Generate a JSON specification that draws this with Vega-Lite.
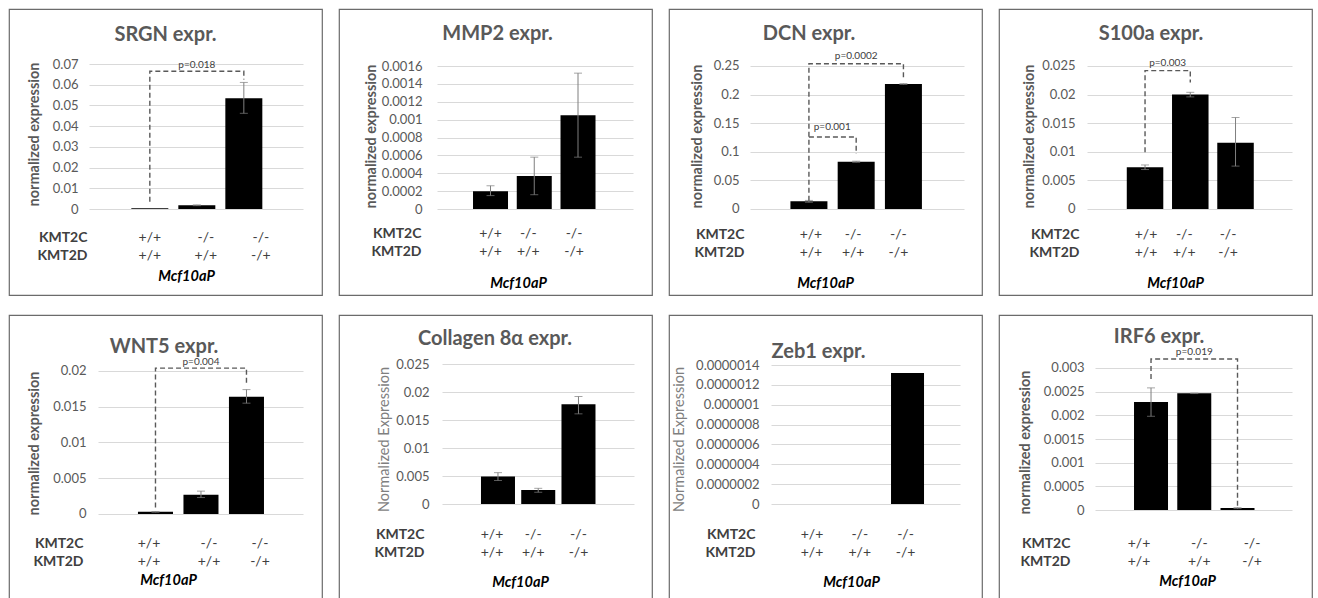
{
"$schema": "https://vega.github.io/schema/vega-lite/v6.json",
"background": "white",
"padding": {"left": 8, "top": 8, "right": 4, "bottom": 4},
"columns": 4,
"spacing": {"row": 18, "column": 15},
"datasets": {
"bars": [
{"p":"SRGN","g":"+/+|+/+","v":0.0004},
{"p":"SRGN","g":"-/-|+/+","v":0.0018,"lo":0.0016,"hi":0.002},
{"p":"SRGN","g":"-/-|-/+","v":0.0535,"lo":0.0462,"hi":0.0611},
{"p":"MMP2","g":"+/+|+/+","v":0.0002,"lo":0.00015,"hi":0.00026},
{"p":"MMP2","g":"-/-|+/+","v":0.00037,"lo":0.00016,"hi":0.00058},
{"p":"MMP2","g":"-/-|-/+","v":0.00105,"lo":0.00058,"hi":0.00152},
{"p":"DCN","g":"+/+|+/+","v":0.0134,"lo":0.0118,"hi":0.015},
{"p":"DCN","g":"-/-|+/+","v":0.0826,"lo":0.0816,"hi":0.0836},
{"p":"DCN","g":"-/-|-/+","v":0.2185,"lo":0.2178,"hi":0.2192},
{"p":"S100a","g":"+/+|+/+","v":0.0073,"lo":0.0069,"hi":0.0077},
{"p":"S100a","g":"-/-|+/+","v":0.02,"lo":0.0196,"hi":0.0204},
{"p":"S100a","g":"-/-|-/+","v":0.0116,"lo":0.0075,"hi":0.016},
{"p":"WNT5","g":"+/+|+/+","v":0.0003,"lo":0.00025,"hi":0.00035},
{"p":"WNT5","g":"-/-|+/+","v":0.0027,"lo":0.0023,"hi":0.0032},
{"p":"WNT5","g":"-/-|-/+","v":0.0164,"lo":0.0155,"hi":0.0174},
{"p":"COL8","g":"+/+|+/+","v":0.0049,"lo":0.0042,"hi":0.0056},
{"p":"COL8","g":"-/-|+/+","v":0.0025,"lo":0.0021,"hi":0.0028},
{"p":"COL8","g":"-/-|-/+","v":0.0178,"lo":0.0161,"hi":0.0192},
{"p":"ZEB1","g":"+/+|+/+","v":0},
{"p":"ZEB1","g":"-/-|+/+","v":0},
{"p":"ZEB1","g":"-/-|-/+","v":0.00000132},
{"p":"IRF6","g":"+/+|+/+","v":0.00228,"lo":0.00198,"hi":0.00258},
{"p":"IRF6","g":"-/-|+/+","v":0.002465,"lo":0.00246,"hi":0.00247},
{"p":"IRF6","g":"-/-|-/+","v":0.00004,"lo":0.00003,"hi":0.00005}
],
"brk": [
{"p":"SRGN","b":1,"o":1,"g":"+/+|+/+","y":0.0035},
{"p":"SRGN","b":1,"o":2,"g":"+/+|+/+","y":0.0665},
{"p":"SRGN","b":1,"o":3,"g":"-/-|-/+","y":0.0665},
{"p":"SRGN","b":1,"o":4,"g":"-/-|-/+","y":0.0625},
{"p":"DCN","b":1,"o":1,"g":"+/+|+/+","y":0.0145},
{"p":"DCN","b":1,"o":2,"g":"+/+|+/+","y":0.254},
{"p":"DCN","b":1,"o":3,"g":"-/-|-/+","y":0.254},
{"p":"DCN","b":1,"o":4,"g":"-/-|-/+","y":0.227},
{"p":"DCN","b":2,"o":1,"g":"+/+|+/+","y":0.126},
{"p":"DCN","b":2,"o":2,"g":"-/-|+/+","y":0.126},
{"p":"DCN","b":2,"o":3,"g":"-/-|+/+","y":0.096},
{"p":"S100a","b":1,"o":1,"g":"+/+|+/+","y":0.0099},
{"p":"S100a","b":1,"o":2,"g":"+/+|+/+","y":0.0242},
{"p":"S100a","b":1,"o":3,"g":"-/-|+/+","y":0.0242},
{"p":"S100a","b":1,"o":4,"g":"-/-|+/+","y":0.0221},
{"p":"WNT5","b":1,"o":1,"g":"+/+|+/+","y":0.0009},
{"p":"WNT5","b":1,"o":2,"g":"+/+|+/+","y":0.0204},
{"p":"WNT5","b":1,"o":3,"g":"-/-|-/+","y":0.0204},
{"p":"WNT5","b":1,"o":4,"g":"-/-|-/+","y":0.0182},
{"p":"IRF6","b":1,"o":1,"g":"+/+|+/+","y":0.00277},
{"p":"IRF6","b":1,"o":2,"g":"+/+|+/+","y":0.00319},
{"p":"IRF6","b":1,"o":3,"g":"-/-|-/+","y":0.00319},
{"p":"IRF6","b":1,"o":4,"g":"-/-|-/+","y":0.00009}
],
"pv": [
{"p":"SRGN","g":"-/-|+/+","y":0.0695,"t":"p=0.018","m":0},
{"p":"DCN","g":"-/-|+/+","y":0.2674,"t":"p=0.0002","m":0},
{"p":"DCN","g":"+/+|+/+","y":0.1436,"t":"p=0.001","m":1},
{"p":"S100a","g":"+/+|+/+","y":0.0256,"t":"p=0.003","m":1},
{"p":"WNT5","g":"-/-|+/+","y":0.0213,"t":"p=0.004","m":0},
{"p":"IRF6","g":"-/-|+/+","y":0.00333,"t":"p=0.019","m":0}
]
},
"concat": [
{
"width": 313, "height": 286,
"title": {"text": "SRGN expr.", "offset": -36, "dx": 0},
"layer": [
{"data": {"name": "bars"}, "transform": [{"filter": "datum.p === 'SRGN'"}],
 "mark": {"type": "bar", "color": "#000000"},
 "encoding": {
  "x": {"field": "g", "type": "nominal", "scale": {"domain": ["+/+|+/+", "-/-|+/+", "-/-|-/+"], "range": [80, 294], "paddingInner": 0.213, "paddingOuter": 0.883, "align": 0.51},
   "axis": {"title": "Mcf10aP", "labelExpr": "split(datum.label, '|')", "offset": -58, "titleX": 177, "titleY": 39,
    "labelOffset": {"condition": [{"test": "datum.value === '+/+|+/+'", "value": 0}, {"test": "datum.value === '-/-|+/+'", "value": 9}], "value": 17}}},
  "y": {"field": "v", "type": "quantitative", "scale": {"domain": [-0.041517, 0.096552], "nice": false, "zero": false},
   "axis": {"title": "normalized expression", "tickCount": 30, "labelOverlap": false, "values": [-0.013517, 0, 0.01, 0.02, 0.03, 0.04, 0.05, 0.06, 0.07],
    "labelExpr": "datum.value < 0 ? ['KMT2C', 'KMT2D'] : format(datum.value, '.2~f')",
    "offset": -72, "titleX": -47, "titleY": 125,
    "labelPadding": {"condition": {"test": "datum.value < 0", "value": -6}, "value": 3},
    "labelFontWeight": {"condition": {"test": "datum.value < 0", "value": "bold"}, "value": "normal"},
    "labelColor": {"condition": {"test": "datum.value < 0", "value": "#404040"}, "value": "#595959"},
    "labelFontSize": {"condition": {"test": "datum.value < 0", "value": 14}, "value": 13},
    "gridOpacity": {"condition": {"test": "datum.value < 0", "value": 0}, "value": 1}}}
 }},
{"data": {"name": "bars"}, "transform": [{"filter": "datum.p === 'SRGN' && datum.lo != null"}],
 "mark": {"type": "errorbar", "ticks": {"size": 8}, "color": "#7f7f7f"},
 "encoding": {"x": {"field": "g", "type": "nominal"}, "y": {"field": "lo", "type": "quantitative", "title": "normalized expression"}, "y2": {"field": "hi"}}},
{"data": {"name": "brk"}, "transform": [{"filter": "datum.p === 'SRGN'"}],
 "mark": {"type": "line", "color": "#595959", "strokeDash": [5, 3], "strokeWidth": 1.4},
 "encoding": {"x": {"field": "g", "type": "nominal"}, "y": {"field": "y", "type": "quantitative", "title": "normalized expression"}, "order": {"field": "o"}, "detail": {"field": "b"}}},
{"data": {"name": "pv"}, "transform": [{"filter": "datum.p === 'SRGN'"}],
 "mark": {"type": "text", "fontSize": 10, "color": "#404040"},
 "encoding": {"x": {"field": "g", "type": "nominal"}, "y": {"field": "y", "type": "quantitative", "title": "normalized expression"}, "text": {"field": "t"}}}
]
},
{
"width": 313, "height": 286,
"title": {"text": "MMP2 expr.", "offset": -35, "dx": 2},
"layer": [
{"data": {"name": "bars"}, "transform": [{"filter": "datum.p === 'MMP2'"}],
 "mark": {"type": "bar", "color": "#000000"},
 "encoding": {
  "x": {"field": "g", "type": "nominal", "scale": {"domain": ["+/+|+/+", "-/-|+/+", "-/-|-/+"], "range": [98, 294], "paddingInner": 0.2, "paddingOuter": 0.84, "align": 0.49},
   "axis": {"title": "Mcf10aP", "labelExpr": "split(datum.label, '|')", "offset": -62, "titleX": 179, "titleY": 50,
    "labelOffset": {"condition": [{"test": "datum.value === '+/+|+/+'", "value": 0}, {"test": "datum.value === '-/-|+/+'", "value": -6}], "value": -4}}},
  "y": {"field": "v", "type": "quantitative", "scale": {"domain": [-0.00096224, 0.0022378], "nice": false, "zero": false},
   "axis": {"title": "normalized expression", "tickCount": 30, "labelOverlap": false, "values": [-0.00026853, 0, 0.0002, 0.0004, 0.0006, 0.0008, 0.001, 0.0012, 0.0014, 0.0016],
    "labelExpr": "datum.value < 0 ? ['KMT2C', 'KMT2D'] : format(datum.value, '.4~f')",
    "offset": -86, "titleX": -54, "titleY": 127,
    "labelPadding": {"condition": {"test": "datum.value < 0", "value": 4}, "value": 3},
    "labelFontWeight": {"condition": {"test": "datum.value < 0", "value": "bold"}, "value": "normal"},
    "labelColor": {"condition": {"test": "datum.value < 0", "value": "#404040"}, "value": "#595959"},
    "labelFontSize": {"condition": {"test": "datum.value < 0", "value": 14}, "value": 13},
    "gridOpacity": {"condition": {"test": "datum.value < 0", "value": 0}, "value": 1}}}
 }},
{"data": {"name": "bars"}, "transform": [{"filter": "datum.p === 'MMP2' && datum.lo != null"}],
 "mark": {"type": "errorbar", "ticks": {"size": 8}, "color": "#7f7f7f"},
 "encoding": {"x": {"field": "g", "type": "nominal"}, "y": {"field": "lo", "type": "quantitative", "title": "normalized expression"}, "y2": {"field": "hi"}}}
]
},
{
"width": 313, "height": 286,
"title": {"text": "DCN expr.", "offset": -35, "dx": -16.5},
"layer": [
{"data": {"name": "bars"}, "transform": [{"filter": "datum.p === 'DCN'"}],
 "mark": {"type": "bar", "color": "#000000"},
 "encoding": {
  "x": {"field": "g", "type": "nominal", "scale": {"domain": ["+/+|+/+", "-/-|+/+", "-/-|-/+"], "range": [81, 295], "paddingInner": 0.217, "paddingOuter": 0.873, "align": 0.49},
   "axis": {"title": "Mcf10aP", "labelExpr": "split(datum.label, '|')", "offset": -60.5, "titleX": 156, "titleY": 48.5,
    "labelOffset": {"condition": [{"test": "datum.value === '+/+|+/+'", "value": 2}, {"test": "datum.value === '-/-|+/+'", "value": -3}], "value": -5}}},
  "y": {"field": "v", "type": "quantitative", "scale": {"domain": [-0.15035, 0.34965], "nice": false, "zero": false},
   "axis": {"title": "normalized expression", "tickCount": 30, "labelOverlap": false, "values": [-0.04458, 0, 0.05, 0.1, 0.15, 0.2, 0.25],
    "labelExpr": "datum.value < 0 ? ['KMT2C', 'KMT2D'] : format(datum.value, '.2~f')",
    "offset": -73, "titleX": -45, "titleY": 127,
    "labelPadding": {"condition": {"test": "datum.value < 0", "value": -2}, "value": 3},
    "labelFontWeight": {"condition": {"test": "datum.value < 0", "value": "bold"}, "value": "normal"},
    "labelColor": {"condition": {"test": "datum.value < 0", "value": "#404040"}, "value": "#595959"},
    "labelFontSize": {"condition": {"test": "datum.value < 0", "value": 14}, "value": 13},
    "gridOpacity": {"condition": {"test": "datum.value < 0", "value": 0}, "value": 1}}}
 }},
{"data": {"name": "bars"}, "transform": [{"filter": "datum.p === 'DCN' && datum.lo != null"}],
 "mark": {"type": "errorbar", "ticks": {"size": 8}, "color": "#7f7f7f"},
 "encoding": {"x": {"field": "g", "type": "nominal"}, "y": {"field": "lo", "type": "quantitative", "title": "normalized expression"}, "y2": {"field": "hi"}}},
{"data": {"name": "brk"}, "transform": [{"filter": "datum.p === 'DCN'"}],
 "mark": {"type": "line", "color": "#595959", "strokeDash": [5, 3], "strokeWidth": 1.4},
 "encoding": {"x": {"field": "g", "type": "nominal"}, "y": {"field": "y", "type": "quantitative", "title": "normalized expression"}, "order": {"field": "o"}, "detail": {"field": "b"}}},
{"data": {"name": "pv"}, "transform": [{"filter": "datum.p === 'DCN' && datum.m === 0"}],
 "mark": {"type": "text", "fontSize": 10, "color": "#404040"},
 "encoding": {"x": {"field": "g", "type": "nominal"}, "y": {"field": "y", "type": "quantitative", "title": "normalized expression"}, "text": {"field": "t"}}},
{"data": {"name": "pv"}, "transform": [{"filter": "datum.p === 'DCN' && datum.m === 1"}],
 "mark": {"type": "text", "fontSize": 10, "color": "#404040"},
 "encoding": {"x": {"field": "g", "type": "nominal", "bandPosition": 1.13}, "y": {"field": "y", "type": "quantitative", "title": "normalized expression"}, "text": {"field": "t"}}}
]
},
{
"width": 313, "height": 286,
"title": {"text": "S100a expr.", "offset": -35, "dx": -4.5},
"layer": [
{"data": {"name": "bars"}, "transform": [{"filter": "datum.p === 'S100a'"}],
 "mark": {"type": "bar", "color": "#000000"},
 "encoding": {
  "x": {"field": "g", "type": "nominal", "scale": {"domain": ["+/+|+/+", "-/-|+/+", "-/-|-/+"], "range": [88, 293], "paddingInner": 0.193, "paddingOuter": 0.862, "align": 0.51},
   "axis": {"title": "Mcf10aP", "labelExpr": "split(datum.label, '|')", "offset": -60.5, "titleX": 176, "titleY": 48.5,
    "labelOffset": {"condition": [{"test": "datum.value === '+/+|+/+'", "value": 1}, {"test": "datum.value === '-/-|+/+'", "value": -6}], "value": -7.5}}},
  "y": {"field": "v", "type": "quantitative", "scale": {"domain": [-0.015035, 0.034965], "nice": false, "zero": false},
   "axis": {"title": "normalized expression", "tickCount": 30, "labelOverlap": false, "values": [-0.004458, 0, 0.005, 0.01, 0.015, 0.02, 0.025],
    "labelExpr": "datum.value < 0 ? ['KMT2C', 'KMT2D'] : format(datum.value, '.3~f')",
    "offset": -79, "titleX": -49, "titleY": 127,
    "labelPadding": {"condition": {"test": "datum.value < 0", "value": -1}, "value": 3},
    "labelFontWeight": {"condition": {"test": "datum.value < 0", "value": "bold"}, "value": "normal"},
    "labelColor": {"condition": {"test": "datum.value < 0", "value": "#404040"}, "value": "#595959"},
    "labelFontSize": {"condition": {"test": "datum.value < 0", "value": 14}, "value": 13},
    "gridOpacity": {"condition": {"test": "datum.value < 0", "value": 0}, "value": 1}}}
 }},
{"data": {"name": "bars"}, "transform": [{"filter": "datum.p === 'S100a' && datum.lo != null"}],
 "mark": {"type": "errorbar", "ticks": {"size": 8}, "color": "#7f7f7f"},
 "encoding": {"x": {"field": "g", "type": "nominal"}, "y": {"field": "lo", "type": "quantitative", "title": "normalized expression"}, "y2": {"field": "hi"}}},
{"data": {"name": "brk"}, "transform": [{"filter": "datum.p === 'S100a'"}],
 "mark": {"type": "line", "color": "#595959", "strokeDash": [5, 3], "strokeWidth": 1.4},
 "encoding": {"x": {"field": "g", "type": "nominal"}, "y": {"field": "y", "type": "quantitative", "title": "normalized expression"}, "order": {"field": "o"}, "detail": {"field": "b"}}},
{"data": {"name": "pv"}, "transform": [{"filter": "datum.p === 'S100a'"}],
 "mark": {"type": "text", "fontSize": 10, "color": "#404040"},
 "encoding": {"x": {"field": "g", "type": "nominal", "bandPosition": 1.12}, "y": {"field": "y", "type": "quantitative", "title": "normalized expression"}, "text": {"field": "t"}}}
]
},
{
"width": 313, "height": 286,
"title": {"text": "WNT5 expr.", "offset": -42, "dx": -1.5},
"layer": [
{"data": {"name": "bars"}, "transform": [{"filter": "datum.p === 'WNT5'"}],
 "mark": {"type": "bar", "color": "#000000"},
 "encoding": {
  "x": {"field": "g", "type": "nominal", "scale": {"domain": ["+/+|+/+", "-/-|+/+", "-/-|-/+"], "range": [89, 294], "paddingInner": 0.23, "paddingOuter": 0.868, "align": 0.506},
   "axis": {"title": "Mcf10aP", "labelExpr": "split(datum.label, '|')", "offset": -57.5, "titleX": 159, "titleY": 36.5,
    "labelOffset": {"condition": [{"test": "datum.value === '+/+|+/+'", "value": -6.5}, {"test": "datum.value === '-/-|+/+'", "value": 8}], "value": 13.5}}},
  "y": {"field": "v", "type": "quantitative", "scale": {"domain": [-0.012168, 0.027832], "nice": false, "zero": false},
   "axis": {"title": "normalized expression", "tickCount": 30, "labelOverlap": false, "values": [-0.0041259, 0, 0.005, 0.01, 0.015, 0.02],
    "labelExpr": "datum.value < 0 ? ['KMT2C', 'KMT2D'] : format(datum.value, '.3~f')",
    "offset": -80, "titleX": -55, "titleY": 128,
    "labelPadding": {"condition": {"test": "datum.value < 0", "value": 6}, "value": 3},
    "labelFontWeight": {"condition": {"test": "datum.value < 0", "value": "bold"}, "value": "normal"},
    "labelColor": {"condition": {"test": "datum.value < 0", "value": "#404040"}, "value": "#595959"},
    "labelFontSize": {"condition": {"test": "datum.value < 0", "value": 14}, "value": 13},
    "gridOpacity": {"condition": {"test": "datum.value < 0", "value": 0}, "value": 1}}}
 }},
{"data": {"name": "bars"}, "transform": [{"filter": "datum.p === 'WNT5' && datum.lo != null"}],
 "mark": {"type": "errorbar", "ticks": {"size": 8}, "color": "#7f7f7f"},
 "encoding": {"x": {"field": "g", "type": "nominal"}, "y": {"field": "lo", "type": "quantitative", "title": "normalized expression"}, "y2": {"field": "hi"}}},
{"data": {"name": "brk"}, "transform": [{"filter": "datum.p === 'WNT5'"}],
 "mark": {"type": "line", "color": "#595959", "strokeDash": [5, 3], "strokeWidth": 1.4},
 "encoding": {"x": {"field": "g", "type": "nominal"}, "y": {"field": "y", "type": "quantitative", "title": "normalized expression"}, "order": {"field": "o"}, "detail": {"field": "b"}}},
{"data": {"name": "pv"}, "transform": [{"filter": "datum.p === 'WNT5'"}],
 "mark": {"type": "text", "fontSize": 10, "color": "#404040"},
 "encoding": {"x": {"field": "g", "type": "nominal"}, "y": {"field": "y", "type": "quantitative", "title": "normalized expression"}, "text": {"field": "t"}}}
]
},
{
"width": 313, "height": 286,
"title": {"text": "Collagen 8α expr.", "offset": -34, "dx": -0.5},
"layer": [
{"data": {"name": "bars"}, "transform": [{"filter": "datum.p === 'COL8'"}],
 "mark": {"type": "bar", "color": "#000000"},
 "encoding": {
  "x": {"field": "g", "type": "nominal", "scale": {"domain": ["+/+|+/+", "-/-|+/+", "-/-|-/+"], "range": [103, 295], "paddingInner": 0.155, "paddingOuter": 0.9625, "align": 0.503},
   "axis": {"title": "Mcf10aP", "labelExpr": "split(datum.label, '|')", "offset": -67, "titleX": 181, "titleY": 48,
    "labelOffset": {"condition": [{"test": "datum.value === '+/+|+/+'", "value": -6}, {"test": "datum.value === '-/-|+/+'", "value": -5}], "value": 0}}},
  "y": {"field": "v", "type": "quantitative", "scale": {"domain": [-0.017321, 0.03375], "nice": false, "zero": false},
   "axis": {"title": "Normalized Expression", "titleFontWeight": "normal", "titleColor": "#7f7f7f", "tickCount": 30, "labelOverlap": false, "values": [-0.0053571, 0, 0.005, 0.01, 0.015, 0.02, 0.025],
    "labelExpr": "datum.value < 0 ? ['KMT2C', 'KMT2D'] : format(datum.value, '.3~f')",
    "offset": -93, "titleX": -48, "titleY": 124,
    "labelPadding": {"condition": {"test": "datum.value < 0", "value": 8}, "value": 3},
    "labelFontWeight": {"condition": {"test": "datum.value < 0", "value": "bold"}, "value": "normal"},
    "labelColor": {"condition": {"test": "datum.value < 0", "value": "#404040"}, "value": "#595959"},
    "labelFontSize": {"condition": {"test": "datum.value < 0", "value": 14}, "value": 13},
    "gridOpacity": {"condition": {"test": "datum.value < 0", "value": 0}, "value": 1}}}
 }},
{"data": {"name": "bars"}, "transform": [{"filter": "datum.p === 'COL8' && datum.lo != null"}],
 "mark": {"type": "errorbar", "ticks": {"size": 8}, "color": "#7f7f7f"},
 "encoding": {"x": {"field": "g", "type": "nominal"}, "y": {"field": "lo", "type": "quantitative", "title": "Normalized Expression"}, "y2": {"field": "hi"}}}
]
},
{
"width": 313, "height": 286,
"title": {"text": "Zeb1 expr.", "offset": -47, "dx": -7},
"layer": [
{"data": {"name": "bars"}, "transform": [{"filter": "datum.p === 'ZEB1'"}],
 "mark": {"type": "bar", "color": "#000000"},
 "encoding": {
  "x": {"field": "g", "type": "nominal", "scale": {"domain": ["+/+|+/+", "-/-|+/+", "-/-|-/+"], "range": [102, 291], "paddingInner": 0.323, "paddingOuter": 0.6, "align": 0.385},
   "axis": {"title": "Mcf10aP", "labelExpr": "split(datum.label, '|')", "offset": -67, "titleX": 182, "titleY": 48,
    "labelOffset": {"condition": [{"test": "datum.value === '+/+|+/+'", "value": 2}, {"test": "datum.value === '-/-|+/+'", "value": 1}], "value": -2}}},
  "y": {"field": "v", "type": "quantitative", "scale": {"domain": [-0.00000097698, 0.0000019036], "nice": false, "zero": false},
   "axis": {"title": "Normalized Expression", "titleFontWeight": "normal", "titleColor": "#7f7f7f", "tickCount": 30, "labelOverlap": false, "values": [-0.00000030216, 0, 0.0000002, 0.0000004, 0.0000006, 0.0000008, 0.000001, 0.0000012, 0.0000014],
    "labelExpr": "datum.value < 0 ? ['KMT2C', 'KMT2D'] : format(datum.value, '.7~f')",
    "offset": -93, "titleX": -83, "titleY": 124,
    "labelPadding": {"condition": {"test": "datum.value < 0", "value": 7}, "value": 3},
    "labelFontWeight": {"condition": {"test": "datum.value < 0", "value": "bold"}, "value": "normal"},
    "labelColor": {"condition": {"test": "datum.value < 0", "value": "#404040"}, "value": "#595959"},
    "labelFontSize": {"condition": {"test": "datum.value < 0", "value": 14}, "value": 13},
    "gridOpacity": {"condition": {"test": "datum.value < 0", "value": 0}, "value": 1}}}
 }}
]
},
{
"width": 313, "height": 286,
"title": {"text": "IRF6 expr.", "offset": -32, "dx": 3.5},
"layer": [
{"data": {"name": "bars"}, "transform": [{"filter": "datum.p === 'IRF6'"}],
 "mark": {"type": "bar", "color": "#000000"},
 "encoding": {
  "x": {"field": "g", "type": "nominal", "scale": {"domain": ["+/+|+/+", "-/-|+/+", "-/-|-/+"], "range": [96, 293], "paddingInner": 0.214, "paddingOuter": 0.8845, "align": 0.51},
   "axis": {"title": "Mcf10aP", "labelExpr": "split(datum.label, '|')", "offset": -58, "titleX": 188, "titleY": 38,
    "labelOffset": {"condition": [{"test": "datum.value === '+/+|+/+'", "value": -12}, {"test": "datum.value === '-/-|+/+'", "value": 5}], "value": 14.5}}},
  "y": {"field": "v", "type": "quantitative", "scale": {"domain": [-0.0019225, 0.0041197], "nice": false, "zero": false},
   "axis": {"title": "normalized expression", "tickCount": 30, "labelOverlap": false, "values": [-0.00069718, 0, 0.0005, 0.001, 0.0015, 0.002, 0.0025, 0.003],
    "labelExpr": "datum.value < 0 ? ['KMT2C', 'KMT2D'] : format(datum.value, '.4~f')",
    "offset": -88, "titleX": -62, "titleY": 127,
    "labelPadding": {"condition": {"test": "datum.value < 0", "value": 17}, "value": 3},
    "labelFontWeight": {"condition": {"test": "datum.value < 0", "value": "bold"}, "value": "normal"},
    "labelColor": {"condition": {"test": "datum.value < 0", "value": "#404040"}, "value": "#595959"},
    "labelFontSize": {"condition": {"test": "datum.value < 0", "value": 14}, "value": 13},
    "gridOpacity": {"condition": {"test": "datum.value < 0", "value": 0}, "value": 1}}}
 }},
{"data": {"name": "bars"}, "transform": [{"filter": "datum.p === 'IRF6' && datum.lo != null"}],
 "mark": {"type": "errorbar", "ticks": {"size": 8}, "color": "#7f7f7f"},
 "encoding": {"x": {"field": "g", "type": "nominal"}, "y": {"field": "lo", "type": "quantitative", "title": "normalized expression"}, "y2": {"field": "hi"}}},
{"data": {"name": "brk"}, "transform": [{"filter": "datum.p === 'IRF6'"}],
 "mark": {"type": "line", "color": "#595959", "strokeDash": [5, 3], "strokeWidth": 1.4},
 "encoding": {"x": {"field": "g", "type": "nominal"}, "y": {"field": "y", "type": "quantitative", "title": "normalized expression"}, "order": {"field": "o"}, "detail": {"field": "b"}}},
{"data": {"name": "pv"}, "transform": [{"filter": "datum.p === 'IRF6'"}],
 "mark": {"type": "text", "fontSize": 10, "color": "#404040"},
 "encoding": {"x": {"field": "g", "type": "nominal"}, "y": {"field": "y", "type": "quantitative", "title": "normalized expression"}, "text": {"field": "t"}}}
]
}
],
"config": {
 "font": "Lato",
 "view": {"stroke": "#6b6b6b", "strokeWidth": 1.2},
 "title": {"fontSize": 20, "fontWeight": "bold", "color": "#595959", "anchor": "middle"},
 "axisX": {"domain": false, "ticks": false, "tickSize": 0, "grid": false, "labelAngle": 0, "labelBaseline": "middle", "labelLineHeight": 18, "labelPadding": 0, "labelColor": "#404040", "labelFontSize": 14, "labelOverlap": false, "titleFontStyle": "italic", "titleFontWeight": "bold", "titleColor": "#000000", "titleFontSize": 14.5, "titleBaseline": "middle", "titleAlign": "center"},
 "axisY": {"domain": false, "ticks": false, "tickSize": 0, "grid": true, "gridColor": "#d9d9d9", "labelOverlap": false, "labelFlush": false, "labelLineHeight": 18, "titleAngle": 270, "titleBaseline": "middle", "titleAlign": "center", "titleFontSize": 14.5, "titleFontWeight": "bold", "titleColor": "#595959"}
}
}
